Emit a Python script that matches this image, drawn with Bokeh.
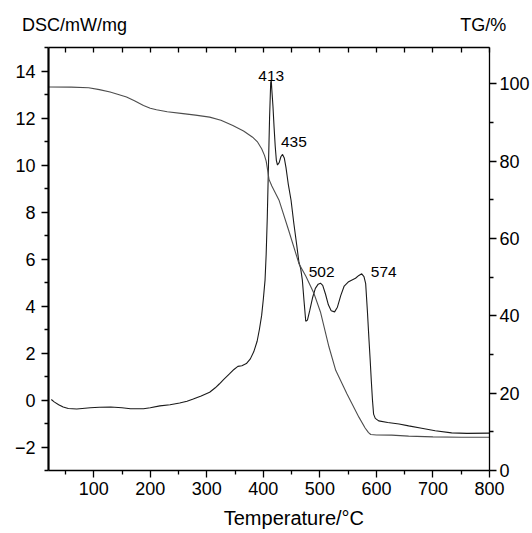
from bokeh.plotting import figure
from bokeh.models import Range1d, LinearAxis, FixedTicker, Label
from bokeh.embed import file_html
from bokeh.resources import INLINE

# ---- data ----
dsc_T = [25, 30, 38, 46, 55, 70, 94, 110, 130, 150, 165, 188, 200, 217, 235, 252, 265, 276, 290,
         305, 315, 322, 330, 340, 348, 355, 362, 370, 377, 383, 389, 393, 397, 400, 403, 405, 407,
         409, 411, 413, 414, 415, 417, 419, 421, 423, 425, 428, 431, 434, 437, 440, 444, 449, 454,
         459, 463, 466, 469, 472, 475, 478, 482, 487, 492, 497, 501, 505, 510, 515, 520, 526, 531,
         537, 543, 550, 556, 563, 569, 574, 578, 581, 584, 587, 589, 591, 593, 595, 598, 604, 620,
         640, 657, 680, 704, 733, 760, 800]
dsc_V = [0.02, -0.08, -0.2, -0.3, -0.36, -0.38, -0.33, -0.31, -0.30, -0.33, -0.37, -0.37, -0.33,
         -0.25, -0.2, -0.13, -0.05, 0.04, 0.17, 0.33, 0.52, 0.68, 0.88, 1.11, 1.3, 1.43, 1.46, 1.55,
         1.75, 2.05, 2.5, 3.0, 3.6, 4.3, 5.1, 6.2, 7.8, 9.9, 12.0, 13.5, 13.6, 13.2, 12.5, 11.6,
         10.8, 10.2, 10.0, 10.1, 10.35, 10.45, 10.3, 9.9, 9.2, 8.5, 7.5, 6.6, 5.85, 5.6, 5.1, 4.2,
         3.35, 3.4, 3.8, 4.35, 4.75, 4.93, 4.97, 4.88, 4.5, 4.05, 3.8, 3.75, 3.95, 4.45, 4.85, 5.02,
         5.1, 5.18, 5.3, 5.37, 5.25, 4.95, 3.8, 2.5, 1.68, 0.8, 0.0, -0.6, -0.78, -0.89, -0.96,
         -1.02, -1.1, -1.2, -1.31, -1.4, -1.42, -1.41]

tg_T = [20, 60, 91, 110, 129, 145, 158, 172, 188, 200, 211, 230, 258, 280, 305, 325, 346, 365,
        381, 390, 397, 402, 405, 408, 410, 415, 428, 445, 463, 475, 489, 501, 516, 528, 548, 569,
        580, 586, 590, 600, 627, 657, 700, 750, 800]
tg_V = [99.2, 99.15, 99.0, 98.5, 97.9, 97.2, 96.6, 95.6, 94.4, 93.7, 93.3, 92.8, 92.3, 91.9, 91.4,
        90.6, 89.2, 87.8, 86.2, 84.9, 83.2, 81.5, 80.0, 77.3, 75.3, 73.6, 69.8, 62.0, 53.5, 50.3,
        46.0, 41.0, 32.0, 25.9, 19.8, 13.8, 11.0, 9.8, 9.3, 9.2, 9.15, 8.9, 8.7, 8.6, 8.6]

peak_T = [413, 435, 502, 574]

x_ticks = [100, 200, 300, 400, 500, 600, 700, 800]
x_minor = [50, 150, 250, 350, 450, 550, 650, 750]
dsc_ticks = [-2, 0, 2, 4, 6, 8, 10, 12, 14]
dsc_minor = [-3, -1, 1, 3, 5, 7, 9, 11, 13, 15]
tg_ticks = [0, 20, 40, 60, 80, 100]
tg_minor = [10, 30, 50, 70, 90]

x_title = "Temperature/\u00b0C"
dsc_title = "DSC/mW/mg"
tg_title = "TG/%"

FONT = "Liberation Sans"

p = figure(width=532, height=533, output_backend="svg", toolbar_location=None,
           x_range=Range1d(20, 800), y_range=Range1d(-3, 15),
           min_border_left=48, min_border_right=40, min_border_top=47, min_border_bottom=63)
p.extra_y_ranges = {"tg": Range1d(0, 109.4)}
p.xgrid.visible = False
p.ygrid.visible = False
p.outline_line_color = None
p.background_fill_color = "white"
p.border_fill_color = "white"

p.line(dsc_T, dsc_V, line_color="#1a1a1a", line_width=1.1)
p.line(tg_T, tg_V, line_color="#4d4d4d", line_width=1.1, y_range_name="tg")


def style(ax, ticks, minor, lw=1.3):
    ax.ticker = FixedTicker(ticks=ticks, minor_ticks=minor)
    ax.axis_line_color = "black"
    ax.axis_line_width = lw
    ax.major_tick_line_color = "black"
    ax.minor_tick_line_color = "black"
    ax.major_tick_line_width = 1.3
    ax.minor_tick_line_width = 1.3
    ax.major_tick_in = 0
    ax.major_tick_out = 7
    ax.minor_tick_in = 0
    ax.minor_tick_out = 4
    ax.major_label_text_font = FONT
    ax.major_label_text_font_size = "18px"
    ax.major_label_text_color = "black"


# bottom
xa = p.xaxis[0]
style(xa, x_ticks, x_minor)
xa.major_label_standoff = 4

# left
ya = p.yaxis[0]
style(ya, dsc_ticks, dsc_minor, lw=2.2)
ya.major_label_standoff = 6
ya.major_label_overrides = {-2: "\u22122"}

# right
ra = LinearAxis(y_range_name="tg")
style(ra, tg_ticks, tg_minor)
ra.major_label_standoff = 3
p.add_layout(ra, "right")

# top: inward ticks every 50, and the two quantity titles as its labels
title_pos = {66: dsc_title, 789: tg_title}
ta = LinearAxis()
style(ta, list(title_pos.keys()), sorted(x_ticks + x_minor))
ta.major_tick_out = 0
ta.major_tick_in = 0
ta.minor_tick_out = 0
ta.minor_tick_in = 5
ta.major_label_overrides = title_pos
ta.major_label_standoff = 13
p.add_layout(ta, "above")

# second bottom axis carrying the x title
xt_pos = {454: x_title}
xb = LinearAxis()
xb.ticker = FixedTicker(ticks=list(xt_pos.keys()), minor_ticks=[])
xb.major_label_overrides = xt_pos
xb.axis_line_color = None
xb.major_tick_line_color = None
xb.minor_tick_line_color = None
xb.major_tick_out = 0
xb.major_tick_in = 0
xb.major_label_standoff = 9
xb.major_label_text_font = FONT
xb.major_label_text_font_size = "20px"
xb.major_label_text_color = "black"
p.add_layout(xb, "below")

# peak labels
peak_pos = [(414, 13.8), (454, 11.0), (503, 5.45), (613, 5.45)]
for t, (lx, ly) in zip(peak_T, peak_pos):
    p.add_layout(Label(x=lx, y=ly, text=str(t), text_align="center", text_baseline="middle",
                       text_font=FONT, text_font_size="15.5px", text_color="black"))

open("out.html", "w").write(file_html(p, INLINE))
